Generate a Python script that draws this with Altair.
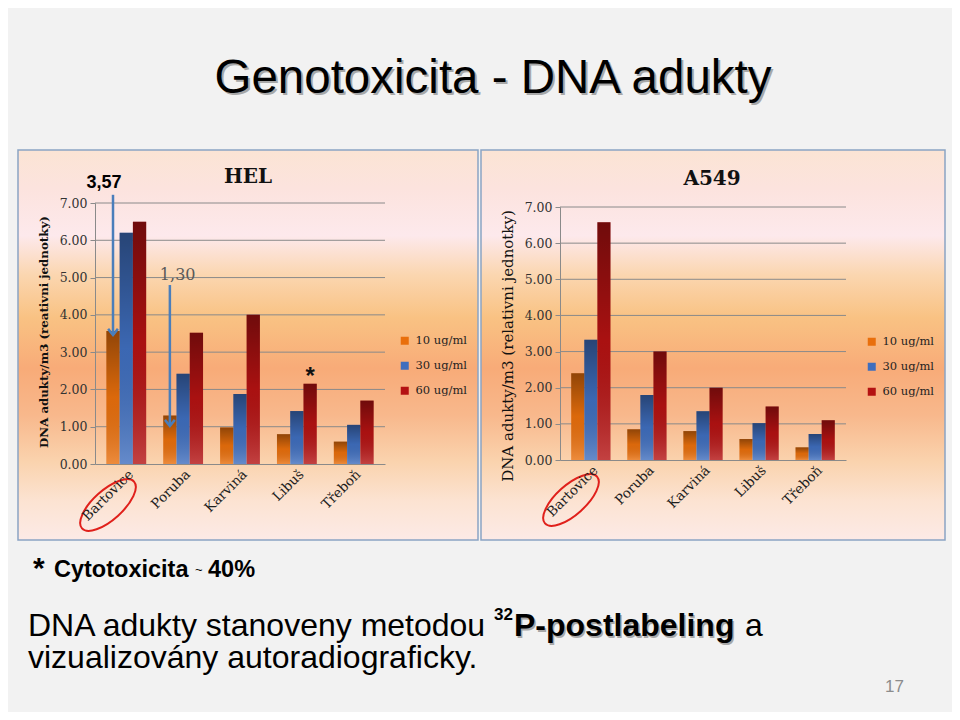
import altair as alt
import pandas as pd

# ---------------- data ----------------
cities = ["Bartovice", "Poruba", "Karviná", "Libuš", "Třeboň"]
doses = ["10 ug/ml", "30 ug/ml", "60 ug/ml"]

hel_10 = [3.57, 1.30, 0.98, 0.80, 0.60]
hel_30 = [6.20, 2.42, 1.88, 1.42, 1.05]
hel_60 = [6.50, 3.52, 4.00, 2.15, 1.70]

a549_10 = [2.40, 0.85, 0.80, 0.58, 0.35]
a549_30 = [3.33, 1.80, 1.35, 1.02, 0.72]
a549_60 = [6.58, 3.00, 2.00, 1.48, 1.10]

y_ticks = [0, 1, 2, 3, 4, 5, 6, 7]
grid_values = [1, 2, 3, 4, 5, 6, 7]
dose_colors = ["#E96F0C", "#3F6EBE", "#B41212"]

# HEL annotations
arrow_city = ["Bartovice", "Poruba"]
arrow_top = [7.22, 4.80]
arrow_tip = [3.46, 1.02]
label_357 = "3,57"
label_357_y = 7.40
label_130 = "1,30"
label_130_y = 4.93
star_city = "Libuš"
star_value = 2.15

W, H = 944, 704
SERIF = "DejaVu Serif"
SANS = "Liberation Sans"
GRID = "#8A8A8A"


def long_df(v10, v30, v60):
    rows = []
    for d, vals in zip(doses, [v10, v30, v60]):
        for c, v in zip(cities, vals):
            rows.append({"city": c, "dose": d, "value": v})
    return pd.DataFrame(rows)


one = pd.DataFrame({"a": [0]})

panel_grad = {
    "gradient": "linear", "x1": 0, "y1": 0, "x2": 0, "y2": 1,
    "stops": [
        {"offset": 0.00, "color": "#FBE4D4"},
        {"offset": 0.10, "color": "#FCE3DE"},
        {"offset": 0.22, "color": "#FDE9EC"},
        {"offset": 0.32, "color": "#FBD6B0"},
        {"offset": 0.43, "color": "#F9C283"},
        {"offset": 0.56, "color": "#F8AB78"},
        {"offset": 0.68, "color": "#F8B88C"},
        {"offset": 0.80, "color": "#FAD3AE"},
        {"offset": 0.90, "color": "#FCE3D2"},
        {"offset": 1.00, "color": "#FCEAE6"},
    ],
}

shade_grad = {
    "gradient": "linear", "x1": 0, "y1": 0, "x2": 0, "y2": 1,
    "stops": [
        {"offset": 0.0, "color": "rgba(0,0,0,0.38)"},
        {"offset": 0.5, "color": "rgba(0,0,0,0.06)"},
        {"offset": 1.0, "color": "rgba(255,255,255,0.2)"},
    ],
}

ELLIPSE = "M -1 0 A 1 0.42 0 1 0 1 0 A 1 0.42 0 1 0 -1 0 Z"
CHEVRON = "M -0.8 -1 L 0 0 L 0.8 -1"


def panel(df, rect, xr, yr, title, title_xy, ytitle, ytitle_xy, ytitle_style,
          legend_xy, ellipse_xy, extra=None):
    x_enc = alt.X(
        "city:N", sort=cities,
        scale=alt.Scale(domain=cities, range=xr, paddingInner=0.3, paddingOuter=0.2),
        axis=alt.Axis(orient="bottom", offset=-(H - yr[0]), title=None, labelAngle=-45,
                      ticks=False, grid=False, domainColor=GRID, domainWidth=1,
                      labelFont=SERIF, labelFontSize=13.5, labelColor="#1F1F1F",
                      labelPadding=3, zindex=1),
    )
    y_enc = alt.Y(
        "value:Q",
        scale=alt.Scale(domain=[0, 7], range=yr, nice=False, zero=True),
        axis=alt.Axis(orient="left", offset=-xr[0], values=y_ticks, format=".2f",
                      grid=False, title=None, tickSize=5, tickColor=GRID,
                      domainColor=GRID, labelFont=SERIF, labelFontSize=12.5,
                      labelColor="#333333", labelPadding=3, zindex=1),
    )
    xo_enc = alt.XOffset("dose:N", sort=doses,
                         scale=alt.Scale(domain=doses, paddingInner=0, paddingOuter=0))

    bg = alt.Chart(one).mark_rect(fill=panel_grad, stroke="#8AA4C4", strokeWidth=1.5).encode(
        x=alt.value(rect[0]), x2=alt.value(rect[2]), y=alt.value(rect[1]), y2=alt.value(rect[3]))

    grid = alt.Chart(pd.DataFrame({"value": grid_values})).mark_rule(
        color=GRID, strokeWidth=1).encode(
        y=y_enc, x=alt.value(xr[0]), x2=alt.value(xr[1]))

    bars = alt.Chart(df).mark_bar().encode(
        x=x_enc, xOffset=xo_enc, y=y_enc,
        color=alt.Color("dose:N", sort=doses,
                        scale=alt.Scale(domain=doses, range=dose_colors),
                        legend=alt.Legend(orient="none", legendX=legend_xy[0],
                                          legendY=legend_xy[1], title=None,
                                          symbolType="square", symbolSize=64,
                                          symbolStrokeWidth=0, labelFont=SERIF,
                                          labelFontSize=11.5, labelColor="#1F1F1F",
                                          rowPadding=12, padding=0, labelOffset=5,
                                          zindex=1)),
    )
    shade = alt.Chart(df).mark_bar(fill=shade_grad).encode(x=x_enc, xOffset=xo_enc, y=y_enc)

    ttl = alt.Chart(one).mark_text(text=title, font=SERIF, fontSize=20, fontWeight="bold",
                                   color="#111111", align="center", baseline="alphabetic").encode(
        x=alt.value(title_xy[0]), y=alt.value(title_xy[1]))
    yt = alt.Chart(one).mark_text(text=ytitle, font=SERIF, angle=270, align="center",
                                  baseline="middle", color="#111111", **ytitle_style).encode(
        x=alt.value(ytitle_xy[0]), y=alt.value(ytitle_xy[1]))
    ell = alt.Chart(one).mark_point(shape=ELLIPSE, size=4900, angle=318, filled=False,
                                    stroke="#E0201B", strokeWidth=2, opacity=1).encode(
        x=alt.value(ellipse_xy[0]), y=alt.value(ellipse_xy[1]))

    layers = [bg, grid, bars, shade, ttl, yt, ell]
    if extra:
        layers += extra(x_enc, xo_enc, y_enc)
    return alt.layer(*layers)


def hel_extra(x_enc, xo_enc, y_enc):
    arr_df = pd.DataFrame({"city": arrow_city, "dose": [doses[0]] * 2,
                           "value": arrow_top, "tip": arrow_tip})
    tip_df = pd.DataFrame({"city": arrow_city, "dose": [doses[0]] * 2, "value": arrow_tip})
    rule = alt.Chart(arr_df).mark_rule(color="#4A7EBB", strokeWidth=2.5, xOffset=-6).encode(
        x=x_enc, xOffset=xo_enc, y=y_enc, y2=alt.Y2("tip"))
    head = alt.Chart(tip_df).mark_point(shape=CHEVRON, size=150, filled=False,
                                        stroke="#4A7EBB", strokeWidth=2.5, opacity=1,
                                        xOffset=-6).encode(
        x=x_enc, xOffset=xo_enc, y=y_enc)
    t1 = alt.Chart(pd.DataFrame({"city": [arrow_city[0]], "dose": [doses[0]],
                                 "value": [label_357_y]})).mark_text(
        text=label_357, font=SANS, fontWeight="bold", fontSize=18, color="#000000",
        align="center", baseline="alphabetic", dx=-9).encode(x=x_enc, xOffset=xo_enc, y=y_enc)
    t2 = alt.Chart(pd.DataFrame({"city": [arrow_city[1]], "dose": [doses[0]],
                                 "value": [label_130_y]})).mark_text(
        text=label_130, font=SERIF, fontSize=16, color="#595959",
        align="left", baseline="alphabetic", dx=-10).encode(x=x_enc, xOffset=xo_enc, y=y_enc)
    star = alt.Chart(pd.DataFrame({"city": [star_city], "dose": [doses[2]],
                                   "value": [star_value]})).mark_text(
        text="*", font=SANS, fontWeight="bold", fontSize=24, color="#111111",
        align="center", baseline="alphabetic", dy=0).encode(x=x_enc, xOffset=xo_enc, y=y_enc)
    return [rule, head, t1, t2, star]


hel = panel(long_df(hel_10, hel_30, hel_60), rect=(10, 142, 470, 532),
            xr=[87, 377], yr=[456, 195], title="HEL", title_xy=(240, 175),
            ytitle="DNA adukty/m3 (reativni jednotky)", ytitle_xy=(36, 324),
            ytitle_style={"fontSize": 11.8, "fontWeight": "bold"},
            legend_xy=(391, 327), ellipse_xy=(100, 497), extra=hel_extra)

a549 = panel(long_df(a549_10, a549_30, a549_60), rect=(473, 142, 937, 532),
             xr=[552, 838], yr=[452, 199], title="A549", title_xy=(704, 177),
             ytitle="DNA adukty/m3 (relativni jednotky)", ytitle_xy=(500, 338),
             ytitle_style={"fontSize": 15},
             legend_xy=(858, 328), ellipse_xy=(563, 492))


def txt(s, x, y, size, font=SANS, weight="normal", color="#000000", align="left"):
    return alt.Chart(one).mark_text(text=s, font=font, fontSize=size, fontWeight=weight,
                                    color=color, align=align, baseline="alphabetic").encode(
        x=alt.value(x), y=alt.value(y))


decor = [
    txt("Genotoxicita - DNA adukty", 487, 87, 47.5, color="#A8A8A8", align="center"),
    txt("Genotoxicita - DNA adukty", 485, 85, 47.5, color="#000000", align="center"),
    txt("*", 25, 570, 30, weight="bold"),
    txt("Cytotoxicita", 46, 569, 23.5, weight="bold"),
    txt("~", 187, 566, 13),
    txt("40%", 200, 569, 23.5, weight="bold"),
    txt("DNA adukty stanoveny metodou", 20, 628, 32),
    txt("32", 486, 612, 17, weight="bold"),
    txt("P-postlabeling", 507.5, 629.5, 32, weight="bold", color="#A8A8A8"),
    txt("P-postlabeling", 506, 628, 32, weight="bold"),
    txt("a", 737, 628, 32),
    txt("vizualizovány autoradiograficky.", 20, 660, 32),
    txt("17", 877, 684, 17, color="#8C8C8C"),
]

chart = alt.layer(hel, a549, *decor).resolve_scale(
    x="independent", y="independent", xOffset="independent", color="independent"
).resolve_axis(x="independent", y="independent").resolve_legend(color="independent").properties(
    width=W, height=H, background="#F2F2F2", padding=0,
    autosize=alt.AutoSizeParams(type="none"),
).configure_view(stroke=None)

chart.save("out.html", embed_options={"renderer": "svg", "actions": False})
